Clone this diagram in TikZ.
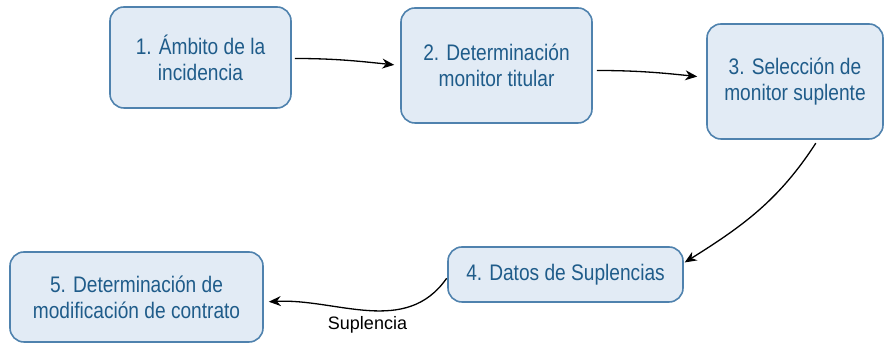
\documentclass[tikz,border=0pt]{standalone}
\usepackage{fontspec}
\usepackage{tikz}
\usetikzlibrary{arrows.meta}
\newfontfamily\cajafont{Liberation Sans}[FakeStretch=0.85]
\newfontfamily\etiqfont{Liberation Sans}
\definecolor{cajafondo}{HTML}{E2EBF5}
\definecolor{cajaborde}{HTML}{4F82AE}
\definecolor{cajatexto}{HTML}{1F5C8A}
\tikzset{
	etapa/.style = {rectangle, rounded corners=14pt, align=center,
		draw=cajaborde, fill=cajafondo, line width=1.6pt, text=cajatexto,
		inner sep=0pt, font=\cajafont\fontsize{22.5}{26}\selectfont},% caja de etapa
	flecha/.style = {black, line width=1.3pt},% conector
	etiq/.style = {black, inner sep=0pt, font=\etiqfont\fontsize{18}{20}\selectfont}% texto suelto
}

\begin{document}
\begin{tikzpicture}[x=1pt, y=1pt, ->, >={Stealth[length=12pt,width=10pt]}]
\useasboundingbox (0,0) rectangle (884,347);
\node [etapa, minimum width=181pt, minimum height=101pt] (e1) at (200.5,289.5)
	{1. Ámbito de la\\incidencia};
\node [etapa, minimum width=191pt, minimum height=115pt] (e2) at (496.5,281.5)
	{2. Determinación\\monitor titular};
\node [etapa, minimum width=176pt, minimum height=115pt] (e3) at (795,265.5)
	{3. Selección de\\monitor suplente};
\node [etapa, minimum width=235pt, minimum height=55pt] (e4) at (565.5,72.5)
	{4. Datos de Suplencias};
\node [etapa, minimum width=253pt, minimum height=90pt] (e5) at (136.5,50)
	{5. Determinación de\\modificación de contrato};
\node [etiq, anchor=base] (sup) at (367.5,17) {Suplencia};

\draw [flecha, shorten <=3pt, shorten >=6pt]
	([yshift=-1pt]e1.east) to[out=0, in=174] (e2.west);
\draw [flecha, shorten <=4pt, shorten >=9pt]
	([yshift=-5pt]e2.east) to[out=0, in=174] ([yshift=4pt]e3.west);
\draw [flecha, shorten <=4pt, shorten >=1pt]
	([xshift=23pt]e3.south) to[out=-123, in=32] ([yshift=11.5pt]e4.east);
\draw [flecha, shorten <=1pt, shorten >=5pt]
	([yshift=-3pt]e4.west) to[out=-125, in=3] ([yshift=-5pt]e5.east);
\end{tikzpicture}
\end{document}
